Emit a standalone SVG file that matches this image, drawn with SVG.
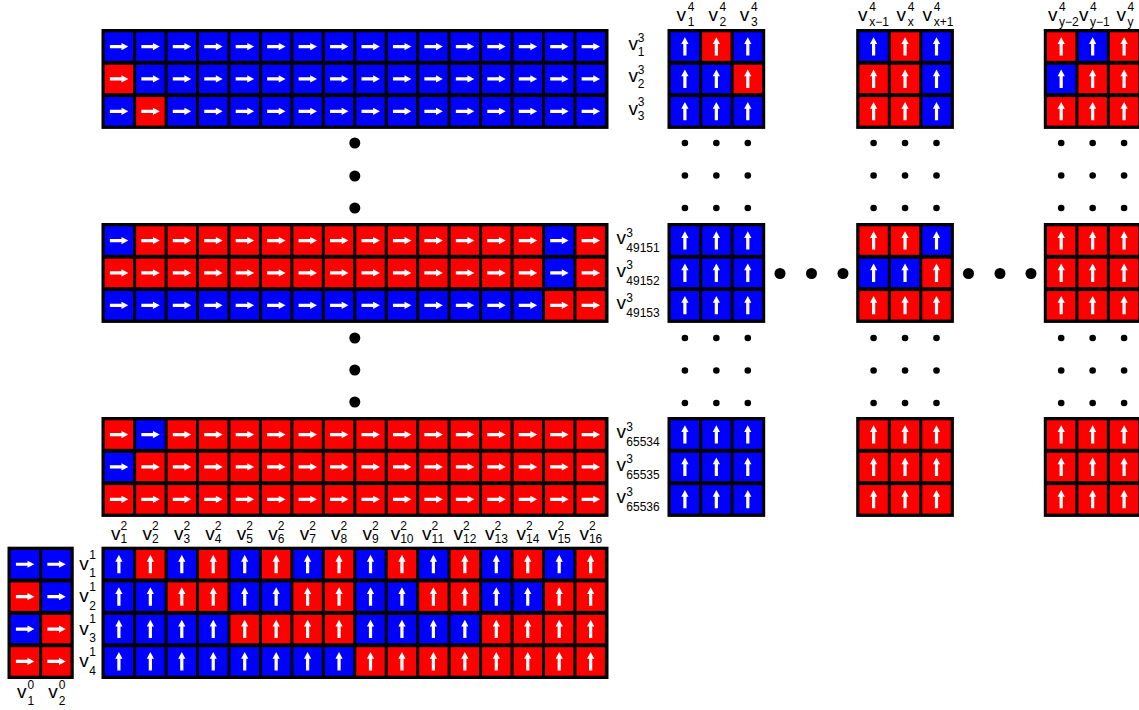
<svg xmlns="http://www.w3.org/2000/svg" xmlns:xlink="http://www.w3.org/1999/xlink" width="1139" height="710" viewBox="0 0 1139 710">
<style>
.bg{fill:#000}
.a{fill:#fff}
.lv{font-family:"Liberation Sans",Arial,Helvetica,sans-serif;font-size:19px;fill:#000}
.ls{font-family:"Liberation Sans",Arial,Helvetica,sans-serif;font-size:12px;fill:#000}
.ld{fill:#000}
</style>
<defs>
<g id="bR"><rect width="28.4" height="28.5" fill="#0000ff"/><path class="a" d="M5.2,12.65H16.8V10.65L23.6,14.25L16.8,17.85V15.85H5.2Z"/></g>
<g id="rR"><rect width="28.4" height="28.5" fill="#ff0000"/><path class="a" d="M5.2,12.65H16.8V10.65L23.6,14.25L16.8,17.85V15.85H5.2Z"/></g>
<g id="bU"><rect width="28.4" height="28.5" fill="#0000ff"/><path class="a" d="M12.6,23.25V11.65H10.6L14.2,4.85L17.8,11.65H15.8V23.25Z"/></g>
<g id="rU"><rect width="28.4" height="28.5" fill="#ff0000"/><path class="a" d="M12.6,23.25V11.65H10.6L14.2,4.85L17.8,11.65H15.8V23.25Z"/></g>
<g id="sd"><circle cx="0" cy="0" r="3.3"/><circle cx="31.45" cy="0" r="3.3"/><circle cx="62.9" cy="0" r="3.3"/><circle cx="0" cy="32.5" r="3.3"/><circle cx="31.45" cy="32.5" r="3.3"/><circle cx="62.9" cy="32.5" r="3.3"/><circle cx="0" cy="65" r="3.3"/><circle cx="31.45" cy="65" r="3.3"/><circle cx="62.9" cy="65" r="3.3"/></g>
</defs>
<rect width="1139" height="710" fill="#fff"/>

<!-- top v3 grid -->
<g id="v3-top">
<rect class="bg" x="101.5" y="29" width="507" height="99.9"/>
<use href="#bR" x="104.7" y="32.3"/><use href="#bR" x="136.15" y="32.3"/><use href="#bR" x="167.6" y="32.3"/><use href="#bR" x="199.05" y="32.3"/><use href="#bR" x="230.5" y="32.3"/><use href="#bR" x="261.95" y="32.3"/><use href="#bR" x="293.4" y="32.3"/><use href="#bR" x="324.85" y="32.3"/><use href="#bR" x="356.3" y="32.3"/><use href="#bR" x="387.75" y="32.3"/><use href="#bR" x="419.2" y="32.3"/><use href="#bR" x="450.65" y="32.3"/><use href="#bR" x="482.1" y="32.3"/><use href="#bR" x="513.55" y="32.3"/><use href="#bR" x="545" y="32.3"/><use href="#bR" x="576.45" y="32.3"/>
<use href="#rR" x="104.7" y="64.7"/><use href="#bR" x="136.15" y="64.7"/><use href="#bR" x="167.6" y="64.7"/><use href="#bR" x="199.05" y="64.7"/><use href="#bR" x="230.5" y="64.7"/><use href="#bR" x="261.95" y="64.7"/><use href="#bR" x="293.4" y="64.7"/><use href="#bR" x="324.85" y="64.7"/><use href="#bR" x="356.3" y="64.7"/><use href="#bR" x="387.75" y="64.7"/><use href="#bR" x="419.2" y="64.7"/><use href="#bR" x="450.65" y="64.7"/><use href="#bR" x="482.1" y="64.7"/><use href="#bR" x="513.55" y="64.7"/><use href="#bR" x="545" y="64.7"/><use href="#bR" x="576.45" y="64.7"/>
<use href="#bR" x="104.7" y="97.1"/><use href="#rR" x="136.15" y="97.1"/><use href="#bR" x="167.6" y="97.1"/><use href="#bR" x="199.05" y="97.1"/><use href="#bR" x="230.5" y="97.1"/><use href="#bR" x="261.95" y="97.1"/><use href="#bR" x="293.4" y="97.1"/><use href="#bR" x="324.85" y="97.1"/><use href="#bR" x="356.3" y="97.1"/><use href="#bR" x="387.75" y="97.1"/><use href="#bR" x="419.2" y="97.1"/><use href="#bR" x="450.65" y="97.1"/><use href="#bR" x="482.1" y="97.1"/><use href="#bR" x="513.55" y="97.1"/><use href="#bR" x="545" y="97.1"/><use href="#bR" x="576.45" y="97.1"/>
<text class="lv" x="628.5" y="50">v</text><text class="ls" x="637.8" y="41.6">3</text><text class="ls" x="637.8" y="55.6">1</text>
<text class="lv" x="628.5" y="82.4">v</text><text class="ls" x="637.8" y="74">3</text><text class="ls" x="637.8" y="88">2</text>
<text class="lv" x="628.5" y="114.8">v</text><text class="ls" x="637.8" y="106.4">3</text><text class="ls" x="637.8" y="120.4">3</text>
</g>

<!-- middle v3 grid -->
<g id="v3-mid">
<rect class="bg" x="101.5" y="223" width="507" height="99.9"/>
<use href="#bR" x="104.7" y="226.3"/><use href="#rR" x="136.15" y="226.3"/><use href="#rR" x="167.6" y="226.3"/><use href="#rR" x="199.05" y="226.3"/><use href="#rR" x="230.5" y="226.3"/><use href="#rR" x="261.95" y="226.3"/><use href="#rR" x="293.4" y="226.3"/><use href="#rR" x="324.85" y="226.3"/><use href="#rR" x="356.3" y="226.3"/><use href="#rR" x="387.75" y="226.3"/><use href="#rR" x="419.2" y="226.3"/><use href="#rR" x="450.65" y="226.3"/><use href="#rR" x="482.1" y="226.3"/><use href="#rR" x="513.55" y="226.3"/><use href="#bR" x="545" y="226.3"/><use href="#rR" x="576.45" y="226.3"/>
<use href="#rR" x="104.7" y="258.7"/><use href="#rR" x="136.15" y="258.7"/><use href="#rR" x="167.6" y="258.7"/><use href="#rR" x="199.05" y="258.7"/><use href="#rR" x="230.5" y="258.7"/><use href="#rR" x="261.95" y="258.7"/><use href="#rR" x="293.4" y="258.7"/><use href="#rR" x="324.85" y="258.7"/><use href="#rR" x="356.3" y="258.7"/><use href="#rR" x="387.75" y="258.7"/><use href="#rR" x="419.2" y="258.7"/><use href="#rR" x="450.65" y="258.7"/><use href="#rR" x="482.1" y="258.7"/><use href="#rR" x="513.55" y="258.7"/><use href="#bR" x="545" y="258.7"/><use href="#rR" x="576.45" y="258.7"/>
<use href="#bR" x="104.7" y="291.1"/><use href="#bR" x="136.15" y="291.1"/><use href="#bR" x="167.6" y="291.1"/><use href="#bR" x="199.05" y="291.1"/><use href="#bR" x="230.5" y="291.1"/><use href="#bR" x="261.95" y="291.1"/><use href="#bR" x="293.4" y="291.1"/><use href="#bR" x="324.85" y="291.1"/><use href="#bR" x="356.3" y="291.1"/><use href="#bR" x="387.75" y="291.1"/><use href="#bR" x="419.2" y="291.1"/><use href="#bR" x="450.65" y="291.1"/><use href="#bR" x="482.1" y="291.1"/><use href="#bR" x="513.55" y="291.1"/><use href="#rR" x="545" y="291.1"/><use href="#rR" x="576.45" y="291.1"/>
<text class="lv" x="616.5" y="244.3">v</text><text class="ls" x="626.3" y="236.7">3</text><text class="ls" x="626.3" y="252.3">49151</text>
<text class="lv" x="616.5" y="276.7">v</text><text class="ls" x="626.3" y="269.1">3</text><text class="ls" x="626.3" y="284.7">49152</text>
<text class="lv" x="616.5" y="309.1">v</text><text class="ls" x="626.3" y="301.5">3</text><text class="ls" x="626.3" y="317.1">49153</text>
</g>

<!-- bottom v3 grid -->
<g id="v3-bot">
<rect class="bg" x="101.5" y="417" width="507" height="99.9"/>
<use href="#rR" x="104.7" y="420.3"/><use href="#bR" x="136.15" y="420.3"/><use href="#rR" x="167.6" y="420.3"/><use href="#rR" x="199.05" y="420.3"/><use href="#rR" x="230.5" y="420.3"/><use href="#rR" x="261.95" y="420.3"/><use href="#rR" x="293.4" y="420.3"/><use href="#rR" x="324.85" y="420.3"/><use href="#rR" x="356.3" y="420.3"/><use href="#rR" x="387.75" y="420.3"/><use href="#rR" x="419.2" y="420.3"/><use href="#rR" x="450.65" y="420.3"/><use href="#rR" x="482.1" y="420.3"/><use href="#rR" x="513.55" y="420.3"/><use href="#rR" x="545" y="420.3"/><use href="#rR" x="576.45" y="420.3"/>
<use href="#bR" x="104.7" y="452.7"/><use href="#rR" x="136.15" y="452.7"/><use href="#rR" x="167.6" y="452.7"/><use href="#rR" x="199.05" y="452.7"/><use href="#rR" x="230.5" y="452.7"/><use href="#rR" x="261.95" y="452.7"/><use href="#rR" x="293.4" y="452.7"/><use href="#rR" x="324.85" y="452.7"/><use href="#rR" x="356.3" y="452.7"/><use href="#rR" x="387.75" y="452.7"/><use href="#rR" x="419.2" y="452.7"/><use href="#rR" x="450.65" y="452.7"/><use href="#rR" x="482.1" y="452.7"/><use href="#rR" x="513.55" y="452.7"/><use href="#rR" x="545" y="452.7"/><use href="#rR" x="576.45" y="452.7"/>
<use href="#rR" x="104.7" y="485.1"/><use href="#rR" x="136.15" y="485.1"/><use href="#rR" x="167.6" y="485.1"/><use href="#rR" x="199.05" y="485.1"/><use href="#rR" x="230.5" y="485.1"/><use href="#rR" x="261.95" y="485.1"/><use href="#rR" x="293.4" y="485.1"/><use href="#rR" x="324.85" y="485.1"/><use href="#rR" x="356.3" y="485.1"/><use href="#rR" x="387.75" y="485.1"/><use href="#rR" x="419.2" y="485.1"/><use href="#rR" x="450.65" y="485.1"/><use href="#rR" x="482.1" y="485.1"/><use href="#rR" x="513.55" y="485.1"/><use href="#rR" x="545" y="485.1"/><use href="#rR" x="576.45" y="485.1"/>
<text class="lv" x="616.5" y="438.3">v</text><text class="ls" x="626.3" y="430.7">3</text><text class="ls" x="626.3" y="446.3">65534</text>
<text class="lv" x="616.5" y="470.7">v</text><text class="ls" x="626.3" y="463.1">3</text><text class="ls" x="626.3" y="478.7">65535</text>
<text class="lv" x="616.5" y="503.1">v</text><text class="ls" x="626.3" y="495.5">3</text><text class="ls" x="626.3" y="511.1">65536</text>
</g>

<!-- v4 grids top -->
<g id="v4-top-1">
<rect class="bg" x="667.5" y="29" width="97.7" height="99.9"/>
<use href="#bU" x="670.7" y="32.3"/><use href="#rU" x="702.15" y="32.3"/><use href="#bU" x="733.6" y="32.3"/>
<use href="#bU" x="670.7" y="64.7"/><use href="#bU" x="702.15" y="64.7"/><use href="#rU" x="733.6" y="64.7"/>
<use href="#bU" x="670.7" y="97.1"/><use href="#bU" x="702.15" y="97.1"/><use href="#bU" x="733.6" y="97.1"/>
<text class="lv" x="676.5" y="20.5">v</text><text class="ls" x="687.7" y="10.7">4</text><text class="ls" x="687.7" y="25.7">1</text>
<text class="lv" x="708.5" y="20.5">v</text><text class="ls" x="719.5" y="10.7">4</text><text class="ls" x="719.5" y="25.7">2</text>
<text class="lv" x="739.8" y="20.5">v</text><text class="ls" x="751" y="10.7">4</text><text class="ls" x="751" y="25.7">3</text>
</g>
<g id="v4-top-2">
<rect class="bg" x="856.2" y="29" width="97.7" height="99.9"/>
<use href="#bU" x="859.4" y="32.3"/><use href="#rU" x="890.85" y="32.3"/><use href="#bU" x="922.3" y="32.3"/>
<use href="#rU" x="859.4" y="64.7"/><use href="#rU" x="890.85" y="64.7"/><use href="#bU" x="922.3" y="64.7"/>
<use href="#rU" x="859.4" y="97.1"/><use href="#rU" x="890.85" y="97.1"/><use href="#bU" x="922.3" y="97.1"/>
<text class="lv" x="858" y="20.5">v</text><text class="ls" x="869.2" y="10.7">4</text><text class="ls" x="869.2" y="25.7">x−1</text>
<text class="lv" x="896.5" y="20.5">v</text><text class="ls" x="907.8" y="10.7">4</text><text class="ls" x="907.8" y="25.7">x</text>
<text class="lv" x="922.5" y="20.5">v</text><text class="ls" x="933.8" y="10.7">4</text><text class="ls" x="933.8" y="25.7">x+1</text>
</g>
<g id="v4-top-3">
<rect class="bg" x="1043.8" y="29" width="97.7" height="99.9"/>
<use href="#rU" x="1047" y="32.3"/><use href="#bU" x="1078.45" y="32.3"/><use href="#rU" x="1109.9" y="32.3"/>
<use href="#bU" x="1047" y="64.7"/><use href="#rU" x="1078.45" y="64.7"/><use href="#rU" x="1109.9" y="64.7"/>
<use href="#rU" x="1047" y="97.1"/><use href="#rU" x="1078.45" y="97.1"/><use href="#rU" x="1109.9" y="97.1"/>
<text class="lv" x="1048" y="20.5">v</text><text class="ls" x="1059" y="10.7">4</text><text class="ls" x="1059" y="25.7">y−2</text>
<text class="lv" x="1079" y="20.5">v</text><text class="ls" x="1090" y="10.7">4</text><text class="ls" x="1090" y="25.7">y−1</text>
<text class="lv" x="1116.5" y="20.5">v</text><text class="ls" x="1127.5" y="10.7">4</text><text class="ls" x="1127.5" y="25.7">y</text>
</g>

<!-- v4 grids middle -->
<g id="v4-mid-1">
<rect class="bg" x="667.5" y="223" width="97.7" height="99.9"/>
<use href="#bU" x="670.7" y="226.3"/><use href="#bU" x="702.15" y="226.3"/><use href="#bU" x="733.6" y="226.3"/>
<use href="#bU" x="670.7" y="258.7"/><use href="#bU" x="702.15" y="258.7"/><use href="#bU" x="733.6" y="258.7"/>
<use href="#bU" x="670.7" y="291.1"/><use href="#bU" x="702.15" y="291.1"/><use href="#bU" x="733.6" y="291.1"/>
</g>
<g id="v4-mid-2">
<rect class="bg" x="856.2" y="223" width="97.7" height="99.9"/>
<use href="#rU" x="859.4" y="226.3"/><use href="#rU" x="890.85" y="226.3"/><use href="#bU" x="922.3" y="226.3"/>
<use href="#bU" x="859.4" y="258.7"/><use href="#bU" x="890.85" y="258.7"/><use href="#rU" x="922.3" y="258.7"/>
<use href="#rU" x="859.4" y="291.1"/><use href="#rU" x="890.85" y="291.1"/><use href="#rU" x="922.3" y="291.1"/>
</g>
<g id="v4-mid-3">
<rect class="bg" x="1043.8" y="223" width="97.7" height="99.9"/>
<use href="#rU" x="1047" y="226.3"/><use href="#rU" x="1078.45" y="226.3"/><use href="#rU" x="1109.9" y="226.3"/>
<use href="#rU" x="1047" y="258.7"/><use href="#rU" x="1078.45" y="258.7"/><use href="#rU" x="1109.9" y="258.7"/>
<use href="#rU" x="1047" y="291.1"/><use href="#rU" x="1078.45" y="291.1"/><use href="#rU" x="1109.9" y="291.1"/>
</g>

<!-- v4 grids bottom -->
<g id="v4-bot-1">
<rect class="bg" x="667.5" y="417" width="97.7" height="99.9"/>
<use href="#bU" x="670.7" y="420.3"/><use href="#bU" x="702.15" y="420.3"/><use href="#bU" x="733.6" y="420.3"/>
<use href="#bU" x="670.7" y="452.7"/><use href="#bU" x="702.15" y="452.7"/><use href="#bU" x="733.6" y="452.7"/>
<use href="#bU" x="670.7" y="485.1"/><use href="#bU" x="702.15" y="485.1"/><use href="#bU" x="733.6" y="485.1"/>
</g>
<g id="v4-bot-2">
<rect class="bg" x="856.2" y="417" width="97.7" height="99.9"/>
<use href="#rU" x="859.4" y="420.3"/><use href="#rU" x="890.85" y="420.3"/><use href="#rU" x="922.3" y="420.3"/>
<use href="#rU" x="859.4" y="452.7"/><use href="#rU" x="890.85" y="452.7"/><use href="#rU" x="922.3" y="452.7"/>
<use href="#rU" x="859.4" y="485.1"/><use href="#rU" x="890.85" y="485.1"/><use href="#rU" x="922.3" y="485.1"/>
</g>
<g id="v4-bot-3">
<rect class="bg" x="1043.8" y="417" width="97.7" height="99.9"/>
<use href="#rU" x="1047" y="420.3"/><use href="#rU" x="1078.45" y="420.3"/><use href="#rU" x="1109.9" y="420.3"/>
<use href="#rU" x="1047" y="452.7"/><use href="#rU" x="1078.45" y="452.7"/><use href="#rU" x="1109.9" y="452.7"/>
<use href="#rU" x="1047" y="485.1"/><use href="#rU" x="1078.45" y="485.1"/><use href="#rU" x="1109.9" y="485.1"/>
</g>

<!-- v0 / v1 grid -->
<g id="v0-grid">
<rect class="bg" x="7.5" y="546.7" width="66.25" height="132.3"/>
<use href="#bR" x="10.7" y="550"/><use href="#bR" x="42.15" y="550"/>
<use href="#rR" x="10.7" y="582.4"/><use href="#bR" x="42.15" y="582.4"/>
<use href="#bR" x="10.7" y="614.8"/><use href="#rR" x="42.15" y="614.8"/>
<use href="#rR" x="10.7" y="647.2"/><use href="#rR" x="42.15" y="647.2"/>
<text class="lv" x="17" y="698">v</text><text class="ls" x="27.5" y="689">0</text><text class="ls" x="27.5" y="705">1</text>
<text class="lv" x="48.3" y="698">v</text><text class="ls" x="58.8" y="689">0</text><text class="ls" x="58.8" y="705">2</text>
</g>

<!-- v2 / v1 grid -->
<g id="v2-grid">
<rect class="bg" x="101.5" y="546.7" width="507" height="132.3"/>
<use href="#bU" x="104.7" y="550"/><use href="#rU" x="136.15" y="550"/><use href="#bU" x="167.6" y="550"/><use href="#rU" x="199.05" y="550"/><use href="#bU" x="230.5" y="550"/><use href="#rU" x="261.95" y="550"/><use href="#bU" x="293.4" y="550"/><use href="#rU" x="324.85" y="550"/><use href="#bU" x="356.3" y="550"/><use href="#rU" x="387.75" y="550"/><use href="#bU" x="419.2" y="550"/><use href="#rU" x="450.65" y="550"/><use href="#bU" x="482.1" y="550"/><use href="#rU" x="513.55" y="550"/><use href="#bU" x="545" y="550"/><use href="#rU" x="576.45" y="550"/>
<use href="#bU" x="104.7" y="582.4"/><use href="#bU" x="136.15" y="582.4"/><use href="#rU" x="167.6" y="582.4"/><use href="#rU" x="199.05" y="582.4"/><use href="#bU" x="230.5" y="582.4"/><use href="#bU" x="261.95" y="582.4"/><use href="#rU" x="293.4" y="582.4"/><use href="#rU" x="324.85" y="582.4"/><use href="#bU" x="356.3" y="582.4"/><use href="#bU" x="387.75" y="582.4"/><use href="#rU" x="419.2" y="582.4"/><use href="#rU" x="450.65" y="582.4"/><use href="#bU" x="482.1" y="582.4"/><use href="#bU" x="513.55" y="582.4"/><use href="#rU" x="545" y="582.4"/><use href="#rU" x="576.45" y="582.4"/>
<use href="#bU" x="104.7" y="614.8"/><use href="#bU" x="136.15" y="614.8"/><use href="#bU" x="167.6" y="614.8"/><use href="#bU" x="199.05" y="614.8"/><use href="#rU" x="230.5" y="614.8"/><use href="#rU" x="261.95" y="614.8"/><use href="#rU" x="293.4" y="614.8"/><use href="#rU" x="324.85" y="614.8"/><use href="#bU" x="356.3" y="614.8"/><use href="#bU" x="387.75" y="614.8"/><use href="#bU" x="419.2" y="614.8"/><use href="#bU" x="450.65" y="614.8"/><use href="#rU" x="482.1" y="614.8"/><use href="#rU" x="513.55" y="614.8"/><use href="#rU" x="545" y="614.8"/><use href="#rU" x="576.45" y="614.8"/>
<use href="#bU" x="104.7" y="647.2"/><use href="#bU" x="136.15" y="647.2"/><use href="#bU" x="167.6" y="647.2"/><use href="#bU" x="199.05" y="647.2"/><use href="#bU" x="230.5" y="647.2"/><use href="#bU" x="261.95" y="647.2"/><use href="#bU" x="293.4" y="647.2"/><use href="#bU" x="324.85" y="647.2"/><use href="#rU" x="356.3" y="647.2"/><use href="#rU" x="387.75" y="647.2"/><use href="#rU" x="419.2" y="647.2"/><use href="#rU" x="450.65" y="647.2"/><use href="#rU" x="482.1" y="647.2"/><use href="#rU" x="513.55" y="647.2"/><use href="#rU" x="545" y="647.2"/><use href="#rU" x="576.45" y="647.2"/>
<text class="lv" x="79.3" y="570">v</text><text class="ls" x="89.3" y="558.5">1</text><text class="ls" x="89.3" y="577.3">1</text>
<text class="lv" x="79.3" y="602.4">v</text><text class="ls" x="89.3" y="590.9">1</text><text class="ls" x="89.3" y="609.7">2</text>
<text class="lv" x="79.3" y="634.8">v</text><text class="ls" x="89.3" y="623.3">1</text><text class="ls" x="89.3" y="642.1">3</text>
<text class="lv" x="79.3" y="667.2">v</text><text class="ls" x="89.3" y="655.7">1</text><text class="ls" x="89.3" y="674.5">4</text>
<text class="lv" x="111" y="540">v</text><text class="ls" x="120.5" y="530">2</text><text class="ls" x="120.5" y="543">1</text>
<text class="lv" x="142.4" y="540">v</text><text class="ls" x="151.9" y="530">2</text><text class="ls" x="151.9" y="543">2</text>
<text class="lv" x="173.9" y="540">v</text><text class="ls" x="183.4" y="530">2</text><text class="ls" x="183.4" y="543">3</text>
<text class="lv" x="205.3" y="540">v</text><text class="ls" x="214.8" y="530">2</text><text class="ls" x="214.8" y="543">4</text>
<text class="lv" x="236.8" y="540">v</text><text class="ls" x="246.3" y="530">2</text><text class="ls" x="246.3" y="543">5</text>
<text class="lv" x="268.2" y="540">v</text><text class="ls" x="277.7" y="530">2</text><text class="ls" x="277.7" y="543">6</text>
<text class="lv" x="299.7" y="540">v</text><text class="ls" x="309.2" y="530">2</text><text class="ls" x="309.2" y="543">7</text>
<text class="lv" x="331.1" y="540">v</text><text class="ls" x="340.6" y="530">2</text><text class="ls" x="340.6" y="543">8</text>
<text class="lv" x="362.6" y="540">v</text><text class="ls" x="372.1" y="530">2</text><text class="ls" x="372.1" y="543">9</text>
<text class="lv" x="390.7" y="540">v</text><text class="ls" x="400.2" y="530">2</text><text class="ls" x="400.2" y="543">10</text>
<text class="lv" x="422.1" y="540">v</text><text class="ls" x="431.6" y="530">2</text><text class="ls" x="431.6" y="543">11</text>
<text class="lv" x="453.6" y="540">v</text><text class="ls" x="463.1" y="530">2</text><text class="ls" x="463.1" y="543">12</text>
<text class="lv" x="485" y="540">v</text><text class="ls" x="494.5" y="530">2</text><text class="ls" x="494.5" y="543">13</text>
<text class="lv" x="516.5" y="540">v</text><text class="ls" x="526" y="530">2</text><text class="ls" x="526" y="543">14</text>
<text class="lv" x="547.9" y="540">v</text><text class="ls" x="557.4" y="530">2</text><text class="ls" x="557.4" y="543">15</text>
<text class="lv" x="579.4" y="540">v</text><text class="ls" x="588.9" y="530">2</text><text class="ls" x="588.9" y="543">16</text>
</g>

<!-- ellipsis dots -->
<g id="connectors" class="ld">
<circle cx="354.8" cy="143" r="5.5"/><circle cx="354.8" cy="176" r="5.5"/><circle cx="354.8" cy="208" r="5.5"/>
<circle cx="354.8" cy="338" r="5.5"/><circle cx="354.8" cy="370" r="5.5"/><circle cx="354.8" cy="402" r="5.5"/>
<circle cx="780" cy="273.5" r="5.5"/><circle cx="811.5" cy="273.5" r="5.5"/><circle cx="843" cy="273.5" r="5.5"/>
<circle cx="968.5" cy="273.5" r="5.5"/><circle cx="1000" cy="273.5" r="5.5"/><circle cx="1031" cy="273.5" r="5.5"/>
<use href="#sd" x="684.9" y="143"/><use href="#sd" x="873.6" y="143"/><use href="#sd" x="1061.2" y="143"/>
<use href="#sd" x="684.9" y="338"/><use href="#sd" x="873.6" y="338"/><use href="#sd" x="1061.2" y="338"/>
</g>
</svg>
